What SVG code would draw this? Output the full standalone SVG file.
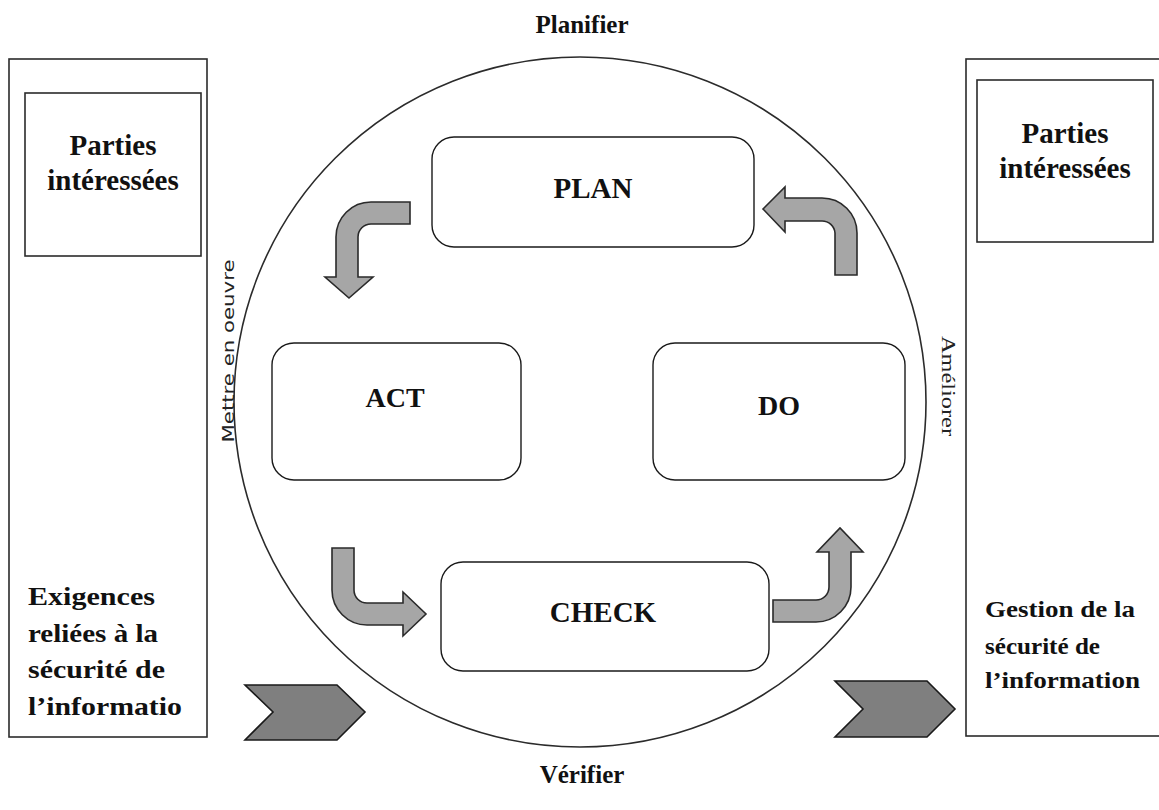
<svg xmlns="http://www.w3.org/2000/svg" width="1159" height="810" viewBox="0 0 1159 810">
  <style>
    .frame { fill: #ffffff; stroke: #2b2b2b; stroke-width: 1.6; }
    .step { fill: #ffffff; stroke: #1a1a1a; stroke-width: 1.4; }
    .ring { fill: none; stroke: #2b2b2b; stroke-width: 1.6; }
    .bend { fill: #a6a6a6; stroke: #2a2a2a; stroke-width: 1.6; stroke-linejoin: miter; }
    .chev { fill: #7f7f7f; stroke: #1a1a1a; stroke-width: 1.6; }
    .lbl { font-family: "Liberation Serif", "Times New Roman", serif; font-weight: bold; fill: #111111; }
    .mid { text-anchor: middle; }
    .side { font-family: "DejaVu Sans", "Liberation Sans", sans-serif; font-size: 16px; fill: #222222; }
    .side2 { font-family: "Liberation Serif", "Times New Roman", serif; font-size: 19px; fill: #222222; }
  </style>

  <rect width="1159" height="810" fill="#ffffff"/>

  <!-- left column: inputs -->
  <g id="left-column">
    <rect class="frame" x="9" y="59" width="198" height="678"/>
    <rect class="frame" x="25" y="93" width="176" height="163"/>
    <text class="lbl mid" x="113" y="155" font-size="29">Parties</text>
    <text class="lbl mid" x="113" y="190" font-size="29">intéressées</text>
    <g class="lbl" font-size="26">
      <text x="28" y="605" textLength="127" lengthAdjust="spacingAndGlyphs">Exigences</text>
      <text x="28" y="642" textLength="130" lengthAdjust="spacingAndGlyphs">reliées à la</text>
      <text x="28" y="678" textLength="137" lengthAdjust="spacingAndGlyphs">sécurité de</text>
      <text x="28" y="715" textLength="154" lengthAdjust="spacingAndGlyphs">l’informatio</text>
    </g>
  </g>

  <!-- right column: outputs (frame runs past the right edge) -->
  <g id="right-column">
    <rect class="frame" x="966" y="59" width="210" height="677"/>
    <rect class="frame" x="977" y="80" width="176" height="162"/>
    <text class="lbl mid" x="1065" y="143" font-size="29">Parties</text>
    <text class="lbl mid" x="1065" y="178" font-size="29">intéressées</text>
    <g class="lbl" font-size="24">
      <text x="985" y="617" textLength="150" lengthAdjust="spacingAndGlyphs">Gestion de la</text>
      <text x="985" y="654" textLength="115" lengthAdjust="spacingAndGlyphs">sécurité de</text>
      <text x="985" y="688" textLength="155" lengthAdjust="spacingAndGlyphs">l’information</text>
    </g>
  </g>

  <!-- PDCA cycle ring and its four side captions -->
  <g id="cycle">
    <ellipse class="ring" cx="580" cy="402" rx="346" ry="345"/>
    <text class="lbl mid" x="582" y="33" font-size="25">Planifier</text>
    <text class="lbl mid" x="582" y="783" font-size="25">Vérifier</text>
    <text class="side mid" transform="translate(234 351) rotate(-90)" textLength="183" lengthAdjust="spacingAndGlyphs">Mettre en oeuvre</text>
    <text class="side2 mid" transform="translate(942 386) rotate(90)" textLength="100" lengthAdjust="spacingAndGlyphs">Améliorer</text>
  </g>

  <g id="plan">
    <rect class="step" x="432" y="137" width="322" height="110" rx="22"/>
    <text class="lbl mid" x="593" y="198" font-size="29">PLAN</text>
  </g>
  <g id="act">
    <rect class="step" x="272" y="343" width="249" height="137" rx="22"/>
    <text class="lbl mid" x="395" y="407" font-size="28">ACT</text>
  </g>
  <g id="do">
    <rect class="step" x="653" y="343" width="252" height="137" rx="22"/>
    <text class="lbl mid" x="779" y="415" font-size="28">DO</text>
  </g>
  <g id="check">
    <rect class="step" x="441" y="562" width="328" height="109" rx="22"/>
    <text class="lbl mid" x="603" y="622" font-size="29">CHECK</text>
  </g>

  <!-- bent block arrows around the cycle and the input/output chevrons -->
  <g id="connectors">
    <path class="bend" d="M410,202 L371,202 A35,35 0 0 0 336,237 L336,277 L325,277 L349,298 L373,277 L358,277 L358,237 A13,13 0 0 1 371,224 L410,224 Z"/>
    <path class="bend" d="M332,548 L354,548 L354,590 A13,13 0 0 0 367,603 L403,603 L403,592 L426,614 L403,636 L403,625 L367,625 A35,35 0 0 1 332,590 Z"/>
    <path class="bend" d="M773,600 L816,600 A13,13 0 0 0 829,587 L829,552 L817,552 L840,528 L863,552 L851,552 L851,587 A35,35 0 0 1 816,622 L773,622 Z"/>
    <path class="bend" d="M763,209 L785,187 L785,198 L822,198 A35,35 0 0 1 857,233 L857,275 L835,275 L835,233 A13,13 0 0 0 822,221 L785,221 L785,232 Z"/>
    <polygon class="chev" points="245,685 337,685 365,712 337,740 245,740 273,712"/>
    <polygon class="chev" points="835,681 927,681 955,709 927,737 835,737 863,709"/>
  </g>
</svg>
